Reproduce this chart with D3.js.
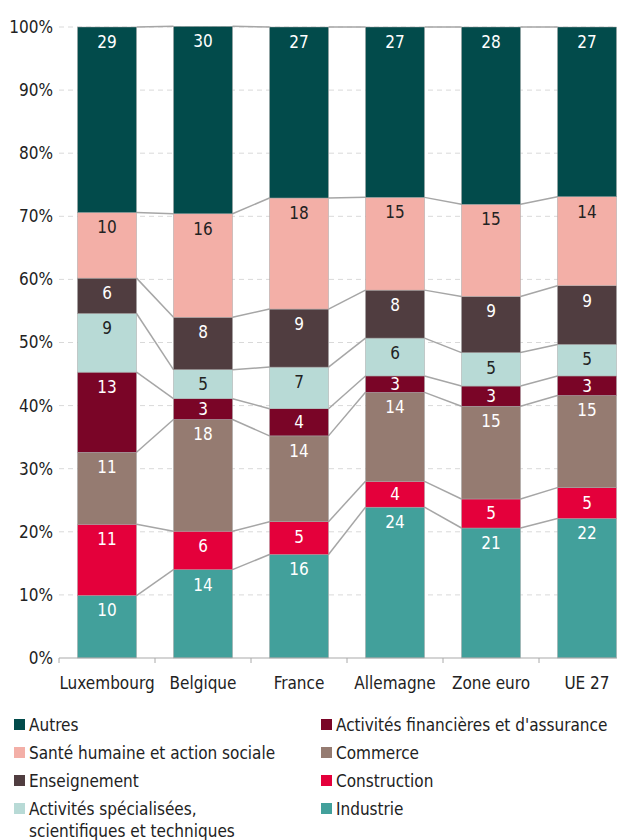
<!doctype html>
<meta charset="utf-8">
<title>Emploi par secteur</title>
<script src="https://cdn.jsdelivr.net/npm/d3@7"></script>
<style>
body, html { margin: 0; background: #fff; }
svg text { font-family: "DejaVu Sans Condensed", "Liberation Sans Narrow", sans-serif; }
</style>
<body>
<svg id="chart" width="617" height="840"></svg>
<script>
// pays / zones
var countries = ["Luxembourg", "Belgique", "France", "Allemagne", "Zone euro", "UE 27"];

// secteurs, de bas en haut de la pile
var sectors = ["Industrie", "Construction", "Commerce", "Activités financières et d'assurance",
  "Activités spécialisées, scientifiques et techniques", "Enseignement",
  "Santé humaine et action sociale", "Autres"];

// parts en %, une liste par secteur, dans l'ordre des pays
var industrie    = [9.9, 14.0, 16.4, 23.9, 20.6, 22.1];
var construction = [11.3, 6.1, 5.2, 4.1, 4.6, 4.9];
var commerce     = [11.4, 17.7, 13.6, 14.1, 14.7, 14.6];
var finance      = [12.7, 3.3, 4.3, 2.6, 3.2, 3.1];
var specialisees = [9.3, 4.6, 6.6, 6.0, 5.3, 5.0];
var enseignement = [5.6, 8.3, 9.2, 7.6, 8.9, 9.3];
var sante        = [10.4, 16.4, 17.6, 14.7, 14.6, 14.1];
var autres       = [29.4, 29.7, 27.1, 27.0, 28.1, 26.9];

var seriesValues = [industrie, construction, commerce, finance, specialisees, enseignement, sante, autres];
var colors = ["#42a09b", "#e4003b", "#957b71", "#7a0527", "#b8dad6", "#503d40", "#f3afa7", "#024b4b"];
var darkText = [false, false, false, false, true, false, true, false];

var yTicks = [0, 10, 20, 30, 40, 50, 60, 70, 80, 90, 100];

// légende : colonne gauche puis droite
var legendLeft = ["Autres", "Santé humaine et action sociale", "Enseignement", "Activités spécialisées,|scientifiques et techniques"];
var legendRight = ["Activités financières et d'assurance", "Commerce", "Construction", "Industrie"];
var legendLeftColors = ["#024b4b", "#f3afa7", "#503d40", "#b8dad6"];
var legendRightColors = ["#7a0527", "#957b71", "#e4003b", "#42a09b"];

var svg = d3.select("#chart");

var x = d3.scaleBand().domain(countries).range([59, 635]).paddingInner(0.385).paddingOuter(0.1925);
var y = d3.scaleLinear().domain([0, 100]).range([658, 27]);

// build stacked rows
var rows = countries.map(function(c, i) {
  var row = { country: c };
  sectors.forEach(function(s, j) { row[s] = seriesValues[j][i]; });
  return row;
});
var stack = d3.stack().keys(sectors)(rows);

// gridlines
svg.append("g").selectAll("line")
  .data(yTicks.filter(d => d > 0))
  .join("line")
  .attr("x1", 59).attr("x2", 617)
  .attr("y1", d => y(d)).attr("y2", d => y(d))
  .attr("stroke", "#d9d9d9")
  .attr("stroke-dasharray", "5,4");

// y labels
svg.append("g").selectAll("text")
  .data(yTicks)
  .join("text")
  .attr("x", 53)
  .attr("y", d => y(d))
  .attr("dy", "0.35em")
  .attr("text-anchor", "end")
  .attr("font-size", 17)
  .attr("fill", "#222")
  .text(d => d + "%");

// connector lines between bars
var bw = x.bandwidth();
var links = svg.append("g");
stack.forEach(function(layer) {
  for (var i = 0; i < countries.length - 1; i++) {
    links.append("line")
      .attr("x1", x(countries[i]) + bw)
      .attr("x2", x(countries[i + 1]))
      .attr("y1", y(layer[i][1]))
      .attr("y2", y(layer[i + 1][1]))
      .attr("stroke", "#a6a6a6")
      .attr("stroke-width", 1.5);
  }
});

// bars
var layers = svg.append("g").selectAll("g")
  .data(stack)
  .join("g")
  .attr("fill", (d, i) => colors[i]);

layers.selectAll("rect")
  .data(d => d)
  .join("rect")
  .attr("x", d => x(d.data.country))
  .attr("width", bw)
  .attr("y", d => y(d[1]))
  .attr("height", d => y(d[0]) - y(d[1]))
  .attr("stroke", "#a6a6a6")
  .attr("stroke-width", 0.5);

// value labels
stack.forEach(function(layer, j) {
  svg.append("g").selectAll("text")
    .data(layer)
    .join("text")
    .attr("x", d => x(d.data.country) + bw / 2)
    .attr("y", function(d) {
      var top = y(d[1]), mid = (y(d[0]) + y(d[1])) / 2;
      return Math.min(top + 15, mid);
    })
    .attr("dy", "0.35em")
    .attr("text-anchor", "middle")
    .attr("font-size", 17)
    .attr("fill", darkText[j] ? "#222" : "#fff")
    .text(d => Math.round(d[1] - d[0]));
});

// x axis
var xa = svg.append("g");
xa.append("line").attr("x1", 59).attr("x2", 617).attr("y1", 658).attr("y2", 658)
  .attr("stroke", "#aaa").attr("stroke-width", 1.2);
xa.selectAll(".tk")
  .data(d3.range(countries.length + 1))
  .join("line")
  .attr("x1", i => 59 + i * x.step()).attr("x2", i => 59 + i * x.step())
  .attr("y1", 658).attr("y2", 663)
  .attr("stroke", "#aaa");
xa.selectAll("text")
  .data(countries)
  .join("text")
  .attr("x", d => x(d) + bw / 2)
  .attr("y", 683)
  .attr("dy", "0.35em")
  .attr("text-anchor", "middle")
  .attr("font-size", 17)
  .attr("fill", "#222")
  .text(d => d);

// legend
function legendCol(items, cols, x0) {
  var g = svg.append("g");
  items.forEach(function(label, i) {
    var yy = 725 + i * 28;
    g.append("rect").attr("x", x0).attr("y", yy - 6).attr("width", 11).attr("height", 11).attr("fill", cols[i]);
    var t = g.append("text").attr("y", yy).attr("font-size", 17).attr("fill", "#222");
    label.split("|").forEach(function(part, k) {
      t.append("tspan").attr("x", x0 + 15).attr("dy", k === 0 ? "0.35em" : 22).text(part);
    });
  });
}
legendCol(legendLeft, legendLeftColors, 14);
legendCol(legendRight, legendRightColors, 321);
</script>
</body>
